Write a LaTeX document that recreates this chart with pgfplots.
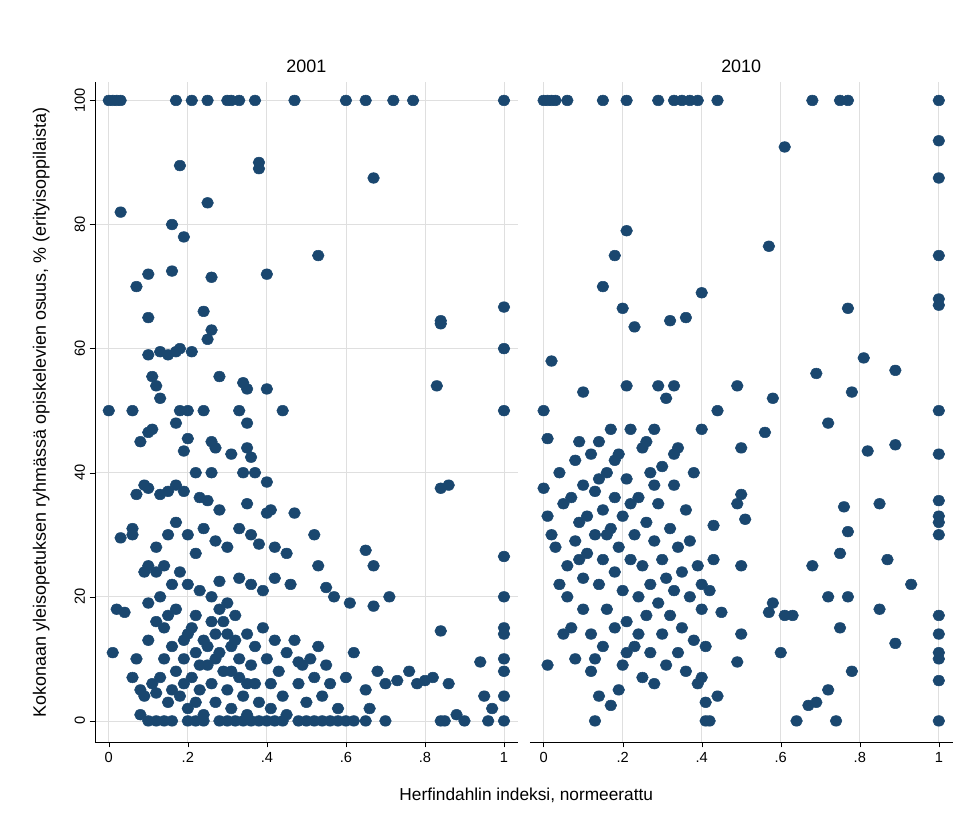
\documentclass[border=0pt]{standalone}
\usepackage{pgfplots}
\pgfplotsset{compat=1.18}
\usepackage{fontspec}
\setmainfont{Liberation Sans}
\definecolor{sblue}{RGB}{26,71,111}
\pgfplotsset{
  panel/.style={
    scale only axis, width=318pt, height=496pt,
    xmin=-0.035, xmax=1.035, ymin=-3.4, ymax=102.9,
    axis x line*=bottom, axis y line*=left,
    xtick={0,0.2,0.4,0.6,0.8,1}, xticklabels={0,.2,.4,.6,.8,1},
    ytick={0,20,40,60,80,100},
    grid=major, grid style={gray!25, line width=0.6pt},
    tick style={black}, tick align=outside, major tick length=4pt,
    tick label style={font=\fontsize{11}{13}\selectfont},
    /pgf/number format/assume math mode=true,
    title style={font=\fontsize{13.5}{16}\selectfont, yshift=-2pt},
    clip=false,
  },
  pts/.style={only marks, mark=*, mark size=4pt, color=sblue, mark options={fill=sblue, draw=sblue, xscale=1.1}},
}
\begin{document}
\begin{tikzpicture}
\begin{axis}[panel, title={2001},
  yticklabel style={rotate=90, anchor=south},
  ylabel={Kokonaan yleisopetuksen ryhmässä opiskelevien osuus, \% (erityisoppilaista)},
  ylabel style={font=\fontsize{13.5}{15}\selectfont, yshift=12pt},
  xlabel={Herfindahlin indeksi, normeerattu},
  xlabel style={font=\fontsize{13}{15}\selectfont, at={(1.02,0)}, yshift=-31pt, anchor=north}]
\addplot[pts] table {
x y
0 100
0.01 100
0.02 100
0.03 100
0.17 100
0.21 100
0.25 100
0.3 100
0.31 100
0.33 100
0.37 100
0.47 100
0.6 100
0.65 100
0.72 100
0.77 100
1 100
0.03 82
0.18 89.5
0.38 90
0.38 89
0.25 83.5
0.67 87.5
0.16 80
0.19 78
0.07 70
0.26 71.5
0.4 72
0.1 72
0.16 72.5
0.53 75
0.24 66
0.26 63
0.25 61.5
0.1 65
0.84 64
0.84 64.5
1 66.7
1 60
0.1 59
0.13 59.5
0.15 59
0.17 59.5
0.21 59.5
0.28 55.5
0.18 60
0.11 55.5
0.12 54
0.13 52
0.34 54.5
0.35 53.5
0.4 53.5
0.83 54
0.86 38
0.84 37.5
1 50
0 50
0.06 50
0.08 45
0.1 46.5
0.11 47
0.17 48
0.18 50
0.2 50
0.2 45.5
0.24 50
0.26 45
0.27 44
0.33 50
0.35 48
0.35 44
0.36 42.5
0.44 50
0.19 43.5
0.31 43
0.22 40
0.26 40
0.34 40
0.37 40
0.4 38.5
0.09 38
0.1 37.5
0.07 36.5
0.13 36.5
0.15 37
0.17 38
0.19 37
0.23 36
0.25 35.5
0.28 34
0.33 31
0.35 35
0.4 33.5
0.41 34
0.03 29.5
0.06 31
0.06 30
0.1 25
0.12 28
0.15 30
0.17 32
0.2 30
0.22 27
0.24 31
0.27 29
0.3 28
0.36 30
0.38 28.5
0.42 28
0.45 27
0.47 33.5
0.52 30
0.46 22
0.53 25
0.55 21.5
0.57 20
0.61 19
0.65 27.5
0.67 25
0.67 18.5
0.71 20
0.09 24
0.12 24
0.14 25
0.16 22
0.18 24
0.2 22
0.23 21
0.26 20
0.28 22.5
0.3 19
0.33 23
0.36 22
0.39 21
0.42 23
1 26.5
1 20
1 15
1 14
1 10
1 8
1 4
1 0
0.1 0
0.12 0
0.14 0
0.16 0
0.2 0
0.22 0
0.24 0
0.28 0
0.3 0
0.32 0
0.34 0
0.36 0
0.38 0
0.4 0
0.42 0
0.44 0
0.48 0
0.5 0
0.52 0
0.54 0
0.56 0
0.58 0
0.6 0
0.62 0
0.65 0
0.7 0
0.84 0
0.85 0
0.9 0
0.96 0
0.02 18
0.04 17.5
0.01 11
0.06 7
0.07 10
0.08 1
0.08 5
0.09 4
0.1 19
0.1 13
0.11 6
0.12 4.5
0.12 16
0.14 15
0.14 10
0.15 3
0.16 12
0.17 8
0.17 18
0.18 4
0.19 10
0.2 14
0.2 2
0.21 7
0.22 11
0.22 17
0.23 5
0.24 13
0.24 1
0.25 9
0.26 16
0.26 6
0.27 3
0.28 11
0.28 18
0.29 8
0.3 14
0.3 5
0.31 2
0.31 12
0.32 17
0.33 7
0.33 10
0.34 4
0.35 14
0.35 1
0.36 9
0.37 12
0.37 6
0.38 3
0.39 15
0.4 10
0.41 6
0.41 2
0.42 13
0.43 8
0.44 4
0.45 11
0.45 1
0.47 13
0.48 6
0.49 9
0.5 3
0.51 10
0.52 7
0.53 12
0.54 4
0.55 9
0.56 6
0.58 2
0.6 7
0.62 11
0.65 5
0.66 2
0.68 8
0.7 6
0.73 6.5
0.76 8
0.78 6
0.8 6.5
0.82 7
0.86 6
0.88 1
0.94 9.5
0.97 2
0.95 4
0.13 20
0.15 17
0.19 13
0.21 15
0.25 12
0.27 14
0.29 16
0.32 13
0.23 9
0.27 10
0.31 8
0.35 6
0.13 7
0.16 5
0.19 6
0.22 3
0.84 14.5
0.48 9.5
};
\end{axis}
\useasboundingbox (-71.4pt,-67.7pt) rectangle (658.8pt,558pt);
\begin{axis}[panel, title={2010}, xshift=327pt, yticklabels={}, axis y line=none]
\addplot[pts] table {
x y
0 100
0.01 100
0.02 100
0.03 100
0.06 100
0.15 100
0.21 100
0.29 100
0.33 100
0.35 100
0.37 100
0.39 100
0.44 100
0.68 100
0.75 100
0.77 100
1 100
1 93.5
0.61 92.5
1 87.5
0.21 79
0.57 76.5
0.18 75
1 75
0.15 70
0.4 69
0.77 66.5
0.2 66.5
0.23 63.5
0.32 64.5
0.36 65
1 68
1 67
0.02 58
0.81 58.5
0.89 56.5
0.69 56
0.58 52
0.78 53
0.72 48
0 50
0.1 53
0.21 54
0.29 54
0.33 54
0.49 54
0.44 50
1 50
0.56 46.5
0.01 45.5
0.4 47
0.5 44
0.82 43.5
0.89 44.5
1 43
1 35.5
0.76 34.5
0.85 35
0.5 36.5
0.49 35
0.51 32.5
0.77 30.5
0.75 27
0.68 25
0.87 26
0.93 22
0.72 20
0.77 20
0.58 19
0.57 17.5
0.61 17
0.63 17
0.75 15
0.85 18
0.89 12.5
0.6 11
0.69 3
0.72 5
0.67 2.5
0.64 0
0.74 0
0.78 8
1 33
1 32
1 30
1 17
1 14
1 11
1 10
1 6.5
1 0
0.13 0
0.41 0
0.42 0
0.01 9
0.49 9.5
0.5 14
0.5 25
0.45 17.5
0.43 26
0.43 31.5
0.44 4
0.4 7
0.41 3
0.39 6
0.34 11
0.28 6
0.17 2.5
0.14 4
0.13 10
0.08 10
0.07 15
0.0 37.5
0.01 33
0.02 30
0.03 28
0.04 40
0.05 35
0.06 25
0.06 20
0.07 36
0.08 29
0.08 42
0.09 45
0.1 38
0.1 23
0.1 18
0.11 33
0.11 27
0.12 43
0.12 14
0.13 30
0.13 37
0.14 22
0.14 45
0.15 34
0.15 26
0.15 12
0.16 40
0.16 18
0.17 31
0.17 47
0.18 24
0.18 36
0.18 15
0.19 28
0.19 43
0.2 21
0.2 33
0.2 9
0.21 39
0.21 16
0.22 26
0.22 47
0.23 30
0.23 12
0.24 36
0.24 20
0.25 44
0.25 25
0.25 7
0.26 32
0.26 17
0.27 40
0.27 22
0.27 11
0.28 29
0.28 47
0.29 19
0.29 35
0.3 14
0.3 26
0.3 41
0.31 23
0.31 9
0.32 31
0.32 17
0.33 38
0.33 21
0.34 28
0.34 44
0.35 15
0.35 24
0.36 34
0.36 8
0.37 20
0.37 29
0.38 13
0.38 40
0.39 25
0.4 18
0.4 22
0.41 12
0.42 21
0.05 14
0.04 22
0.09 32
0.12 8
0.16 30
0.19 5
0.22 35
0.24 14
0.26 45
0.28 38
0.31 52
0.33 43
0.09 26
0.14 39
0.18 42
0.21 11
};
\end{axis}
\end{tikzpicture}
\end{document}
